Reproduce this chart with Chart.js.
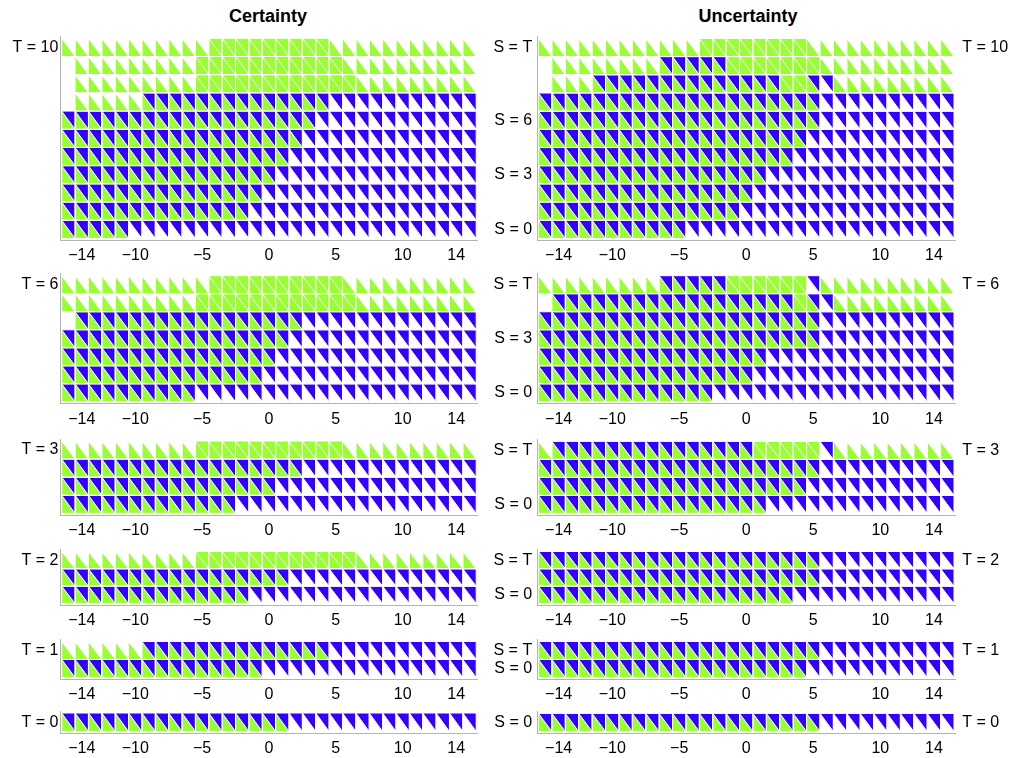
<!DOCTYPE html>
<html>
<head>
<meta charset="utf-8">
<script src="https://cdn.jsdelivr.net/npm/chart.js@4.4.1/dist/chart.umd.min.js"></script>
<style>
  body { margin: 0; background: #fff; }
  #page { position: relative; width: 1017px; height: 758px; overflow: hidden;
          font-family: 'Liberation Sans', Arial, sans-serif; }
  .title { position: absolute; top: 6px; font-weight: bold; font-size: 18px;
           transform: translateX(-50%); white-space: nowrap; }
  .panel { position: absolute; }
</style>
</head>
<body>
<div id="page">
  <div class="title" style="left:268px">Certainty</div>
  <div class="title" style="left:748px">Uncertainty</div>
</div>
<script>
// cell positions along x and the labelled ticks
const xCells = [-15, -14, -13, -12, -11, -10, -9, -8, -7, -6, -5, -4, -3, -2, -1, 0,
                1, 2, 3, 4, 5, 6, 7, 8, 9, 10, 11, 12, 13, 14, 15];
const xTicks = [-14, -10, -5, 0, 5, 10, 14];
const horizons = [10, 6, 3, 2, 1, 0];

// one string per row, top row (S = T) first, run length per cell code:
// G = both halves green, L = lower half green, B = green + blue,
// b = blue upper half only, . = empty
const certT10 = ['L11 G9 L11', '.1 L9 G11 L10', '.1 L9 G12 L9', '.1 L5 B14 b11',
                 'B19 b12', 'B18 b13', 'B17 b14', 'B16 b15', 'B15 b16', 'B14 b17', 'B5 b26'];
const certT6 = ['L11 G10 L10', 'L10 G12 L9', '.1 B17 b13', 'B17 b14', 'B16 b15', 'B15 b16', 'B10 b21'];
const certT3 = ['L10 G11 L10', 'B18 b13', 'B16 b15', 'B13 b18'];
const certT2 = ['L10 G12 L9', 'B17 b14', 'B14 b17'];
const certT1 = ['L6 B14 b11', 'B15 b16'];
const certT0 = ['B17 b14'];

const uncT10 = ['L12 G8 L11', '.1 L8 B5 G7 L10', '.1 L3 B14 G2 B1 b1 L9',
                'B21 b10', 'B21 b10', 'B20 b11', 'B19 b12', 'B17 b14', 'B16 b15', 'B15 b16', 'B11 b20'];
const uncT6 = ['L9 B5 G6 b1 L10', '.1 B18 G1 B1 b1 L9', 'B21 b10', 'B21 b10', 'B17 b14', 'B16 b15', 'B13 b18'];
const uncT3 = ['L1 B15 G5 b1 L9', 'B21 b10', 'B20 b11', 'B17 b14'];
const uncT2 = ['B21 b10', 'B21 b10', 'B19 b12'];
const uncT1 = ['B21 b10', 'B20 b11'];
const uncT0 = ['B21 b10'];

// S values that carry a label on the uncertainty panels
const uncLabelsT10 = [0, 3, 6, 10];
const uncLabelsT6 = [0, 3, 6];
const uncLabelsT3 = [0, 3];
const uncLabelsT2 = [0, 2];
const uncLabelsT1 = [0, 1];
const uncLabelsT0 = [0];

const GREEN = '#99ff33';
const BLUE = '#3300ff';
const lowerColor = { G: GREEN, L: GREEN, B: GREEN, b: null, '.': null };
const upperColor = { G: GREEN, L: null, B: BLUE, b: BLUE, '.': null };

// page layout (pixels)
const gridTop = [38.3, 275.7, 441, 551.5, 641.5, 713];
const gridBottom = [238.5, 401.9, 513.4, 603.5, 677.5, 731.5];
const sides = [
  { gridLeft: 61.7, gridRight: 476.2, canvasLeft: 0, canvasRight: 492 },
  { gridLeft: 538.5, gridRight: 954, canvasLeft: 482, canvasRight: 1017 }
];
const EDGE = 0.1; // axis reaches a little past the outer cells

Chart.defaults.font.family = "'Liberation Sans', Arial, sans-serif";
Chart.defaults.color = '#000';
const tickFont = { size: 16 };

function expand(rows, T) {
  const pts = [];
  rows.forEach((row, k) => {
    let i = 0;
    row.split(' ').forEach(tok => {
      const code = tok[0];
      const n = parseInt(tok.slice(1), 10);
      for (let j = 0; j < n; j++, i++) pts.push({ x: xCells[i], y: T - k, c: code });
    });
    if (i !== xCells.length) console.warn('row length', T, k, i);
  });
  return pts;
}

const cellPlugin = {
  id: 'cells',
  beforeDatasetsDraw(chart) {
    const { ctx } = chart;
    const sx = chart.scales.x, sy = chart.scales.y;
    const hx = Math.abs(sx.getPixelForValue(0.5) - sx.getPixelForValue(0));
    const hy = Math.abs(sy.getPixelForValue(0.5) - sy.getPixelForValue(0));
    const pts = chart.data.datasets[0].data;
    ctx.save();
    pts.forEach(p => {
      const cx = sx.getPixelForValue(p.x), cy = sy.getPixelForValue(p.y);
      const l = cx - hx, r = cx + hx, t = cy - hy, b = cy + hy;
      const lo = lowerColor[p.c], up = upperColor[p.c];
      if (lo) {
        ctx.fillStyle = lo;
        ctx.beginPath(); ctx.moveTo(l, t); ctx.lineTo(l, b); ctx.lineTo(r, b); ctx.closePath(); ctx.fill();
      }
      if (up) {
        ctx.fillStyle = up;
        ctx.beginPath(); ctx.moveTo(l, t); ctx.lineTo(r, t); ctx.lineTo(r, b); ctx.closePath(); ctx.fill();
      }
    });
    // thin white seams between cells and along the diagonals
    ctx.strokeStyle = '#ffffff';
    ctx.lineWidth = 1;
    pts.forEach(p => {
      if (p.c === '.') return;
      const cx = sx.getPixelForValue(p.x), cy = sy.getPixelForValue(p.y);
      ctx.beginPath();
      ctx.rect(cx - hx, cy - hy, 2 * hx, 2 * hy);
      ctx.moveTo(cx - hx, cy - hy);
      ctx.lineTo(cx + hx, cy + hy);
      ctx.stroke();
    });
    ctx.restore();
  }
};

const minus = v => (v < 0 ? '\u2212' + Math.abs(v) : String(v));

function panel(sideIdx, idx, rows, leftTicks, leftText, rightText) {
  const T = horizons[idx];
  const side = sides[sideIdx];
  const cw = (side.gridRight - side.gridLeft) / xCells.length;
  const rh = (gridBottom[idx] - gridTop[idx]) / (T + 1);
  const areaL = side.gridLeft - EDGE * cw;
  const areaR = side.gridRight + EDGE * cw;
  const areaT = gridTop[idx] - EDGE * rh;
  const areaB = gridBottom[idx] + EDGE * rh;

  const cTop = Math.floor(areaT) - 16;
  const cH = Math.ceil(areaB) + 34 - cTop;
  const cW = side.canvasRight - side.canvasLeft;

  const box = document.createElement('div');
  box.className = 'panel';
  box.style.left = side.canvasLeft + 'px';
  box.style.top = cTop + 'px';
  box.style.width = cW + 'px';
  box.style.height = cH + 'px';
  const canvas = document.createElement('canvas');
  canvas.width = cW;
  canvas.height = cH;
  box.appendChild(canvas);
  document.getElementById('page').appendChild(box);

  const yLeftW = areaL - side.canvasLeft;
  const rightW = side.canvasRight - areaR;
  const xH = cH - (areaB - cTop);

  const scales = {
    x: {
      type: 'linear', min: -15.5 - EDGE, max: 15.5 + EDGE,
      afterBuildTicks: ax => { ax.ticks = xTicks.map(v => ({ value: v })); },
      afterFit: s => { s.height = xH; },
      ticks: { callback: v => minus(v), font: tickFont, padding: 6, autoSkip: false, maxRotation: 0 },
      grid: { display: false, drawTicks: false },
      border: { display: true, color: '#b4b4b4', width: 1 }
    },
    y: {
      type: 'linear', min: -0.5 - EDGE, max: T + 0.5 + EDGE,
      afterBuildTicks: ax => { ax.ticks = leftTicks.map(v => ({ value: v })); },
      afterFit: s => { s.width = yLeftW; },
      ticks: { callback: v => leftText(v), font: tickFont, padding: sideIdx ? 5 : 2, autoSkip: false },
      grid: { display: false, drawTicks: false },
      border: { display: true, color: '#b4b4b4', width: 1 }
    }
  };
  if (rightText) {
    scales.y2 = {
      type: 'linear', axis: 'y', position: 'right', min: -0.5 - EDGE, max: T + 0.5 + EDGE,
      afterBuildTicks: ax => { ax.ticks = [{ value: T }]; },
      afterFit: s => { s.width = rightW; },
      ticks: { callback: () => rightText, font: tickFont, padding: 7, autoSkip: false },
      grid: { display: false, drawTicks: false },
      border: { display: false }
    };
  }

  new Chart(canvas, {
    type: 'scatter',
    data: { datasets: [{ data: expand(rows, T), pointRadius: 0, pointHitRadius: 0 }] },
    options: {
      responsive: false,
      animation: false,
      devicePixelRatio: 1,
      events: [],
      layout: { padding: { top: areaT - cTop, bottom: 0, left: 0, right: rightText ? 0 : side.canvasRight - areaR } },
      plugins: { legend: { display: false }, tooltip: { enabled: false } },
      scales
    },
    plugins: [cellPlugin]
  });
}

const certRows = [certT10, certT6, certT3, certT2, certT1, certT0];
const uncRows = [uncT10, uncT6, uncT3, uncT2, uncT1, uncT0];
const uncLabels = [uncLabelsT10, uncLabelsT6, uncLabelsT3, uncLabelsT2, uncLabelsT1, uncLabelsT0];

horizons.forEach((T, idx) => {
  // Certainty column: only "T = n" beside the top row
  panel(0, idx, certRows[idx], [T], () => 'T = ' + T, null);
  // Uncertainty column: S labels on the left, horizon on the right
  panel(1, idx, uncRows[idx], uncLabels[idx],
        v => (v === T && T > 0 ? 'S = T' : 'S = ' + v), 'T = ' + T);
});
</script>
</body>
</html>
